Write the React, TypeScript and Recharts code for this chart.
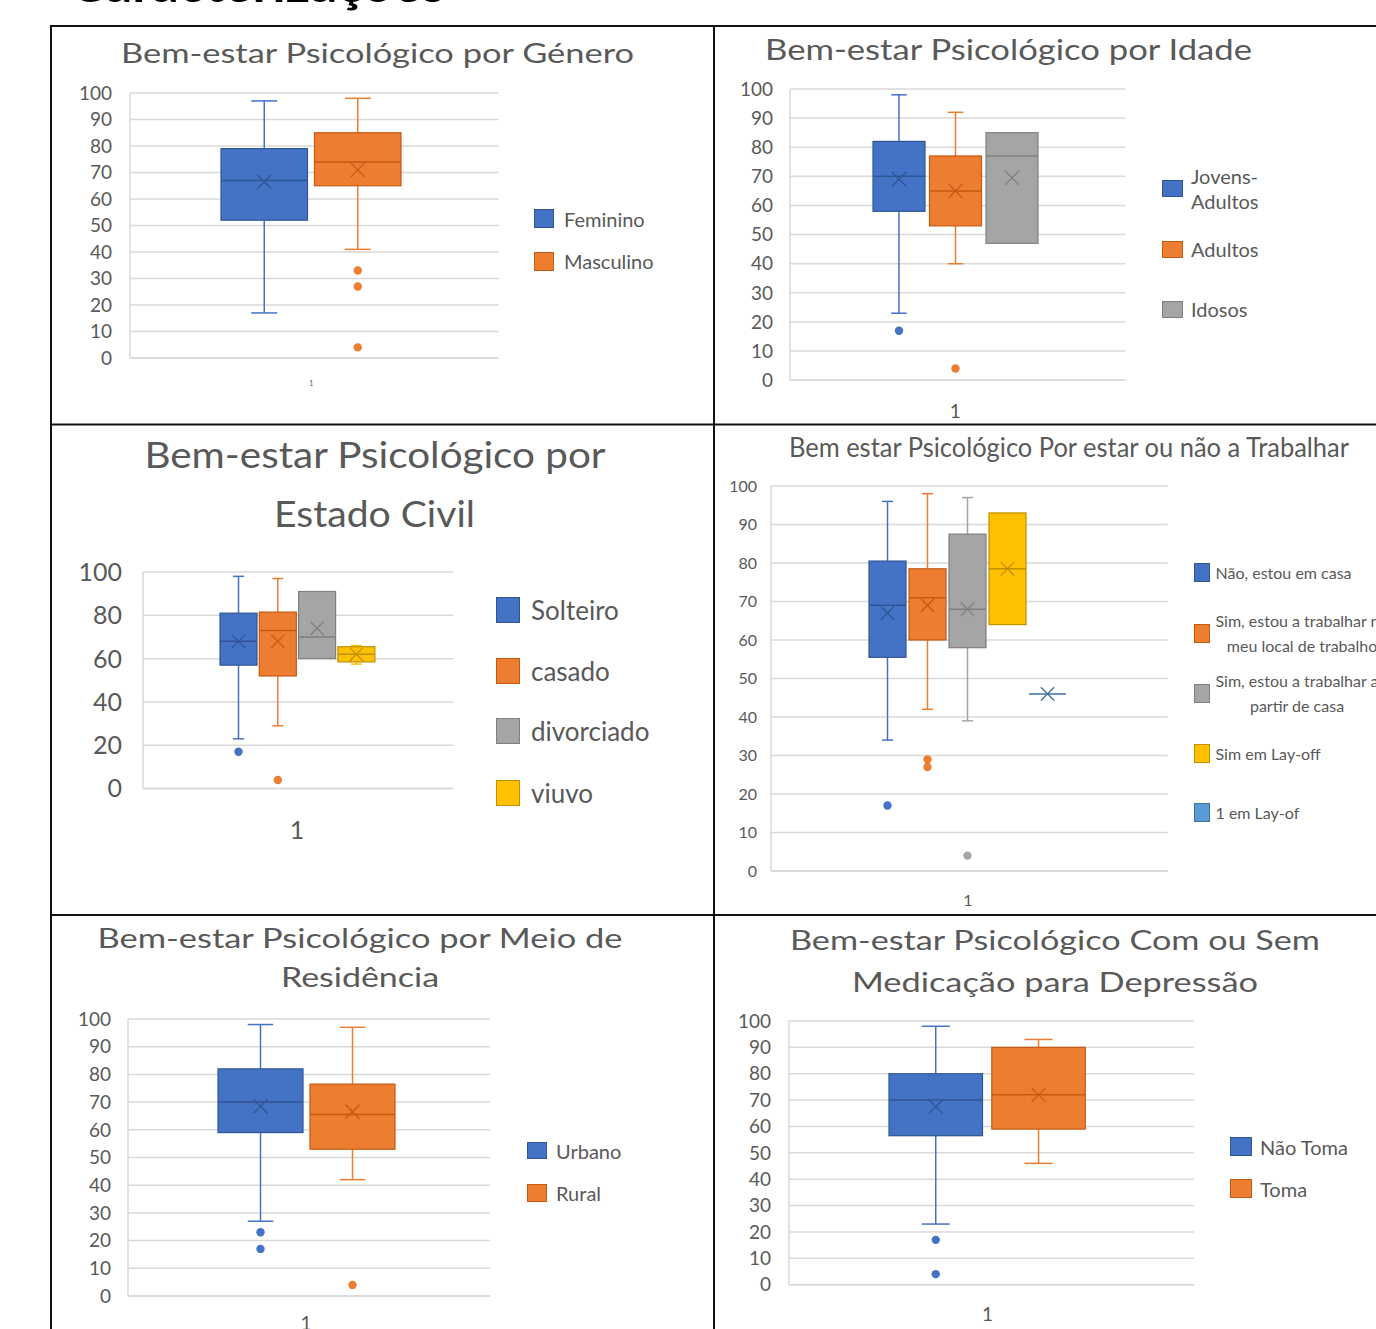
import React from 'react';
import { BarChart, Bar, XAxis, YAxis, CartesianGrid } from 'recharts';

const FONT = 'Lato, "Open Sans", sans-serif';
const TEXT = '#595959';
const GRID = '#d9d9d9';

// Bem-estar por Género
const generoSeries = ['Feminino', 'Masculino'];
const generoColors = ['#4472c4', '#ed7d31'];
const generoMin = [17, 41];
const generoQ1 = [52, 65];
const generoMedian = [67, 74];
const generoQ3 = [79, 85];
const generoMax = [97, 98];
const generoMean = [66.5, 71];
const generoOutliers = [[], [33, 27, 4]];

// Bem-estar por Idade
const idadeSeries = ['Jovens-\nAdultos', 'Adultos', 'Idosos'];
const idadeColors = ['#4472c4', '#ed7d31', '#a5a5a5'];
const idadeMin = [23, 40, 47];
const idadeQ1 = [58, 53, 47];
const idadeMedian = [70, 65, 77];
const idadeQ3 = [82, 77, 85];
const idadeMax = [98, 92, 85];
const idadeMean = [69, 65, 69.5];
const idadeOutliers = [[17], [4], []];

// Bem-estar por Estado Civil
const civilSeries = ['Solteiro', 'casado', 'divorciado', 'viuvo'];
const civilColors = ['#4472c4', '#ed7d31', '#a5a5a5', '#ffc000'];
const civilMin = [23, 29, 60, 57.5];
const civilQ1 = [57, 52, 60, 58.5];
const civilMedian = [68, 73, 70, 62];
const civilQ3 = [81, 81.5, 91, 65.5];
const civilMax = [98, 97, 91, 66];
const civilMean = [68, 68, 74, 62];
const civilOutliers = [[17], [4], [], []];

// Bem-estar por estar ou não a trabalhar
const trabalhoSeries = [
  'Não, estou em casa',
  'Sim, estou a trabalhar no\nmeu local de trabalho',
  'Sim, estou a trabalhar a\npartir de casa',
  'Sim em Lay-off',
  '1 em Lay-of',
];
const trabalhoColors = ['#4472c4', '#ed7d31', '#a5a5a5', '#ffc000', '#5b9bd5'];
const trabalhoMin = [34, 42, 39, 64, 46];
const trabalhoQ1 = [55.5, 60, 58, 64, 46];
const trabalhoMedian = [69, 71, 68, 78.5, 46];
const trabalhoQ3 = [80.5, 78.5, 87.5, 93, 46];
const trabalhoMax = [96, 98, 97, 93, 46];
const trabalhoMean = [67, 69, 68, 78.5, 46];
const trabalhoOutliers = [[17], [29, 27], [4], [], []];

// Bem-estar por Meio de Residência
const residenciaSeries = ['Urbano', 'Rural'];
const residenciaColors = ['#4472c4', '#ed7d31'];
const residenciaMin = [27, 42];
const residenciaQ1 = [59, 53];
const residenciaMedian = [70, 65.5];
const residenciaQ3 = [82, 76.5];
const residenciaMax = [98, 97];
const residenciaMean = [68.5, 66.5];
const residenciaOutliers = [[23, 17], [4]];

// Com ou sem medicação
const medicacaoSeries = ['Não Toma', 'Toma'];
const medicacaoColors = ['#4472c4', '#ed7d31'];
const medicacaoMin = [23, 46];
const medicacaoQ1 = [56.5, 59];
const medicacaoMedian = [70, 72];
const medicacaoQ3 = [80, 90];
const medicacaoMax = [98, 93];
const medicacaoMean = [67.5, 72];
const medicacaoOutliers = [[17, 4], []];

const ticks10 = [0, 10, 20, 30, 40, 50, 60, 70, 80, 90, 100];
const ticks20 = [0, 20, 40, 60, 80, 100];

const DARK: Record<string, string> = {
  '#4472c4': '#2f5597',
  '#ed7d31': '#c55a11',
  '#a5a5a5': '#7f7f7f',
  '#ffc000': '#bf9000',
  '#5b9bd5': '#41719c',
};

type Stats = {
  min: number;
  q1: number;
  median: number;
  q3: number;
  max: number;
  mean: number;
  outliers: number[];
};

function buildStats(
  min: number[],
  q1: number[],
  median: number[],
  q3: number[],
  max: number[],
  mean: number[],
  outliers: number[][],
): Stats[] {
  return min.map((_, i) => ({
    min: min[i],
    q1: q1[i],
    median: median[i],
    q3: q3[i],
    max: max[i],
    mean: mean[i],
    outliers: outliers[i],
  }));
}

// the bar spans [0, q3], so its pixel geometry gives us the y scale
function boxShape(s: Stats, color: string) {
  return (props: any) => {
    const { x, y, width, height } = props;
    if (x == null || y == null) return <g />;
    const top = Math.min(y, y + height);
    const h = Math.abs(height);
    const zero = top + h;
    const k = h / s.q3;
    const py = (v: number) => zero - v * k;
    const cx = x + width / 2;
    const cap = width * 0.15;
    const dark = DARK[color] ?? color;
    const m = Math.min(7, width * 0.18);
    const my = py(s.mean);
    return (
      <g>
        {s.max > s.q3 && (
          <>
            <line x1={cx} x2={cx} y1={py(s.q3)} y2={py(s.max)} stroke={color} strokeWidth={1.5} />
            <line x1={cx - cap} x2={cx + cap} y1={py(s.max)} y2={py(s.max)} stroke={color} strokeWidth={1.5} />
          </>
        )}
        {s.min < s.q1 && (
          <>
            <line x1={cx} x2={cx} y1={py(s.q1)} y2={py(s.min)} stroke={color} strokeWidth={1.5} />
            <line x1={cx - cap} x2={cx + cap} y1={py(s.min)} y2={py(s.min)} stroke={color} strokeWidth={1.5} />
          </>
        )}
        <rect x={x} y={py(s.q3)} width={width} height={py(s.q1) - py(s.q3)} fill={color} stroke={dark} strokeWidth={1.2} />
        <line x1={x} x2={x + width} y1={py(s.median)} y2={py(s.median)} stroke={dark} strokeWidth={1.5} />
        <line x1={cx - m} x2={cx + m} y1={my - m} y2={my + m} stroke={dark} strokeWidth={1.3} />
        <line x1={cx - m} x2={cx + m} y1={my + m} y2={my - m} stroke={dark} strokeWidth={1.3} />
        {s.outliers.map((o, j) => (
          <circle key={j} cx={cx} cy={py(o)} r={4.2} fill={color} />
        ))}
      </g>
    );
  };
}

type PanelProps = {
  series: string[];
  colors: string[];
  stats: Stats[];
  plotLeft: number;
  plotRight: number;
  plotTop: number;
  plotBottom: number;
  ticks: number[];
  tickFont: number;
  tickGap: number;
  catY: number;
  catFont: number;
  barSize: number;
  barGap: number;
  padL: number;
  padR: number;
};

function BoxPanel(p: PanelProps) {
  const axisW = 70;
  const mTop = 20;
  const mRight = 10;
  const xAxisH = p.catY - p.plotBottom + 24;
  const left = p.plotLeft - axisW;
  const top = p.plotTop - mTop;
  const width = p.plotRight - left + mRight;
  const height = p.plotBottom - top + xAxisH;
  const row: Record<string, unknown> = { cat: '1' };
  p.stats.forEach((s, i) => {
    row[`s${i}`] = [0, s.q3];
  });
  return (
    <div style={{ position: 'absolute', left, top }}>
      <BarChart
        width={width}
        height={height}
        data={[row]}
        margin={{ top: mTop, right: mRight, bottom: 0, left: 0 }}
        barGap={p.barGap}
      >
        <CartesianGrid vertical={false} stroke={GRID} strokeWidth={1.5} />
        <XAxis
          dataKey="cat"
          height={xAxisH}
          axisLine={{ stroke: GRID, strokeWidth: 1.5 }}
          tickLine={false}
          tickSize={0}
          tickMargin={p.catY - p.plotBottom - 0.35 * p.catFont}
          tick={{ fontSize: p.catFont, fill: TEXT, fontFamily: FONT }}
          padding={{ left: p.padL, right: p.padR }}
        />
        <YAxis
          type="number"
          domain={[0, 100]}
          ticks={p.ticks}
          interval={0}
          width={axisW}
          axisLine={{ stroke: GRID, strokeWidth: 1.5 }}
          tickLine={false}
          tickSize={0}
          tickMargin={p.tickGap}
          tick={{ fontSize: p.tickFont, fill: TEXT, fontFamily: FONT }}
        />
        {p.stats.map((s, i) => (
          <Bar
            key={i}
            dataKey={`s${i}`}
            name={p.series[i]}
            barSize={p.barSize}
            fill={p.colors[i]}
            shape={boxShape(s, p.colors[i])}
            isAnimationActive={false}
          />
        ))}
      </BarChart>
    </div>
  );
}

type LegendProps = {
  series: string[];
  colors: string[];
  sqX: number;
  sqW: number;
  sqH: number;
  centers: number[];
  textX: number;
  font: number;
  lineH: number;
  align?: 'left' | 'center';
};

function LegendBlock(l: LegendProps) {
  return (
    <>
      {l.series.map((name, i) => {
        const lines = name.split('\n');
        const c = l.centers[i];
        return (
          <React.Fragment key={i}>
            <div
              style={{
                position: 'absolute',
                left: l.sqX,
                top: c - l.sqH / 2,
                width: l.sqW,
                height: l.sqH,
                background: l.colors[i],
                boxSizing: 'border-box',
                border: `1px solid ${DARK[l.colors[i]]}`,
              }}
            />
            <div
              style={{
                position: 'absolute',
                left: l.textX,
                top: c - (lines.length * l.lineH) / 2,
                fontSize: l.font,
                lineHeight: `${l.lineH}px`,
                color: TEXT,
                fontFamily: FONT,
                whiteSpace: 'pre',
                textAlign: l.align ?? 'left',
              }}
            >
              {name}
            </div>
          </React.Fragment>
        );
      })}
    </>
  );
}

type TitleLine = { text: string; cx: number; base: number; size: number; len: number };

const titles: TitleLine[] = [
  { text: 'Bem-estar Psicológico por Género', cx: 377.5, base: 62.5, size: 27, len: 513 },
  { text: 'Bem-estar Psicológico por Idade', cx: 1008.5, base: 60, size: 28, len: 487 },
  { text: 'Bem-estar Psicológico por', cx: 375, base: 468, size: 36, len: 461 },
  { text: 'Estado Civil', cx: 374.5, base: 526.5, size: 36, len: 201 },
  { text: 'Bem estar Psicológico Por estar ou não a Trabalhar', cx: 1069, base: 456.5, size: 27, len: 560 },
  { text: 'Bem-estar Psicológico por Meio de', cx: 360, base: 948, size: 26, len: 525 },
  { text: 'Residência', cx: 360, base: 987, size: 26, len: 158 },
  { text: 'Bem-estar Psicológico Com ou Sem', cx: 1055, base: 950, size: 26, len: 530 },
  { text: 'Medicação para Depressão', cx: 1055, base: 991.5, size: 26, len: 406 },
];

export default function App() {
  const genero = buildStats(generoMin, generoQ1, generoMedian, generoQ3, generoMax, generoMean, generoOutliers);
  const idade = buildStats(idadeMin, idadeQ1, idadeMedian, idadeQ3, idadeMax, idadeMean, idadeOutliers);
  const civil = buildStats(civilMin, civilQ1, civilMedian, civilQ3, civilMax, civilMean, civilOutliers);
  const trabalho = buildStats(trabalhoMin, trabalhoQ1, trabalhoMedian, trabalhoQ3, trabalhoMax, trabalhoMean, trabalhoOutliers);
  const residencia = buildStats(residenciaMin, residenciaQ1, residenciaMedian, residenciaQ3, residenciaMax, residenciaMean, residenciaOutliers);
  const medicacao = buildStats(medicacaoMin, medicacaoQ1, medicacaoMedian, medicacaoQ3, medicacaoMax, medicacaoMean, medicacaoOutliers);

  return (
    <div
      style={{
        position: 'absolute',
        left: 0,
        top: 0,
        width: 1376,
        height: 1329,
        overflow: 'hidden',
        background: '#fff',
        fontFamily: FONT,
      }}
    >
      <BoxPanel
        series={generoSeries} colors={generoColors} stats={genero}
        plotLeft={129.5} plotRight={498} plotTop={93} plotBottom={358}
        ticks={ticks10} tickFont={19} tickGap={18}
        catY={383} catFont={7} barSize={86.5} barGap={7} padL={0} padR={6}
      />
      <LegendBlock
        series={generoSeries} colors={generoColors}
        sqX={534} sqW={20} sqH={19} centers={[218.5, 261]} textX={564} font={20} lineH={24}
      />

      <BoxPanel
        series={idadeSeries} colors={idadeColors} stats={idade}
        plotLeft={790} plotRight={1125.5} plotTop={89.3} plotBottom={380.5}
        ticks={ticks10} tickFont={19} tickGap={17}
        catY={411} catFont={19} barSize={52} barGap={4.5} padL={0} padR={5}
      />
      <LegendBlock
        series={idadeSeries} colors={idadeColors}
        sqX={1161.5} sqW={21} sqH={17} centers={[188.5, 249.5, 309.5]} textX={1191} font={20} lineH={25}
      />

      <BoxPanel
        series={civilSeries} colors={civilColors} stats={civil}
        plotLeft={143} plotRight={453} plotTop={571.7} plotBottom={788.3}
        ticks={ticks20} tickFont={25} tickGap={21}
        catY={830} catFont={25} barSize={37} barGap={2.3} padL={0} padR={2}
      />
      <LegendBlock
        series={civilSeries} colors={civilColors}
        sqX={496} sqW={24} sqH={26} centers={[610, 671, 731, 793]} textX={531} font={26} lineH={30}
      />

      <BoxPanel
        series={trabalhoSeries} colors={trabalhoColors} stats={trabalho}
        plotLeft={770.7} plotRight={1167.5} plotTop={486} plotBottom={871}
        ticks={ticks10} tickFont={16} tickGap={14}
        catY={900} catFont={16} barSize={37} barGap={3} padL={0} padR={3}
      />
      <LegendBlock
        series={trabalhoSeries} colors={trabalhoColors}
        sqX={1193.5} sqW={16} sqH={19} centers={[572.5, 633, 693, 753, 812.5]} textX={1215.5} font={16} lineH={25}
        align="center"
      />

      <BoxPanel
        series={residenciaSeries} colors={residenciaColors} stats={residencia}
        plotLeft={128} plotRight={490} plotTop={1019} plotBottom={1296}
        ticks={ticks10} tickFont={19} tickGap={17}
        catY={1323} catFont={19} barSize={85} barGap={7} padL={0} padR={6}
      />
      <LegendBlock
        series={residenciaSeries} colors={residenciaColors}
        sqX={526.5} sqW={20.5} sqH={17.5} centers={[1150.5, 1193]} textX={556} font={20} lineH={24}
      />

      <BoxPanel
        series={medicacaoSeries} colors={medicacaoColors} stats={medicacao}
        plotLeft={789.4} plotRight={1194.3} plotTop={1021} plotBottom={1284.7}
        ticks={ticks10} tickFont={19} tickGap={18}
        catY={1314} catFont={19} barSize={93.5} barGap={9.3} padL={0} padR={8}
      />
      <LegendBlock
        series={medicacaoSeries} colors={medicacaoColors}
        sqX={1230} sqW={21.5} sqH={19} centers={[1146.5, 1188.5]} textX={1260} font={20} lineH={24}
      />

      <svg
        width={1376}
        height={1329}
        style={{ position: 'absolute', left: 0, top: 0, pointerEvents: 'none' }}
      >
        {/* section heading of the page, cut off by the top edge */}
        <text x={70} y={1.5} fontFamily={FONT} fontWeight={700} fontSize={50} fill="#000" textLength={375} lengthAdjust="spacingAndGlyphs">
          Caracterizações
        </text>
        {titles.map((t, i) => (
          <text
            key={i}
            x={t.cx}
            y={t.base}
            textAnchor="middle"
            fontFamily={FONT}
            fontSize={t.size}
            fill={TEXT}
            textLength={t.len}
            lengthAdjust="spacingAndGlyphs"
          >
            {t.text}
          </text>
        ))}
        <g stroke="#111" strokeWidth={2}>
          <line x1={51} x2={51} y1={25} y2={1329} />
          <line x1={714} x2={714} y1={25} y2={1329} />
          <line x1={50} x2={1376} y1={26} y2={26} />
          <line x1={50} x2={1376} y1={424.5} y2={424.5} />
          <line x1={50} x2={1376} y1={915} y2={915} />
        </g>
      </svg>
    </div>
  );
}
